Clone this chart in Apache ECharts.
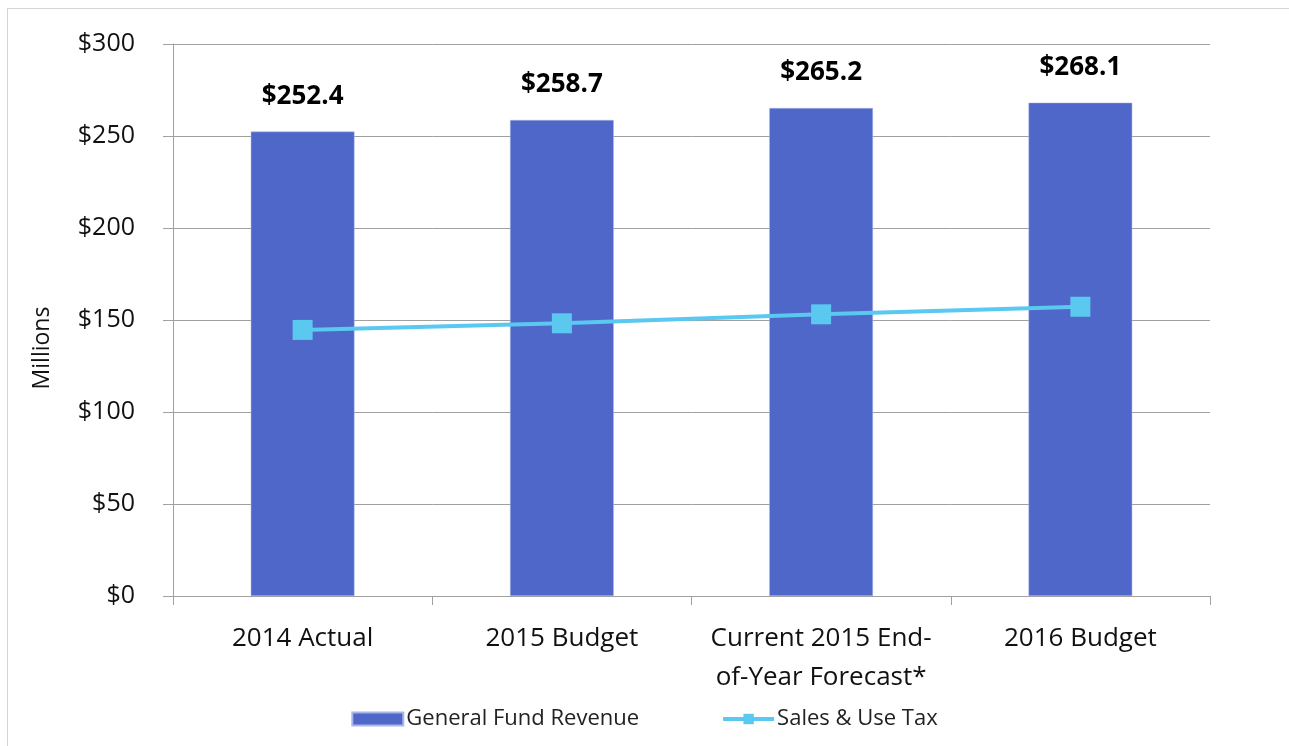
<!DOCTYPE html>
<html>
<head>
<meta charset="utf-8">
<script src="https://cdn.jsdelivr.net/npm/echarts@6/dist/echarts.min.js"></script>
<style>
  html, body { margin: 0; padding: 0; background: #fff; }
  #myChart { width: 1289px; height: 746px; }
</style>
</head>
<body>
<div id="myChart"></div>
<script>
var categories = ['2014 Actual', '2015 Budget', 'Current 2015 End-\nof-Year Forecast*', '2016 Budget'];
var revenueData = [252.4, 258.7, 265.2, 268.1];
var salesTaxData = [144.6, 148.2, 153.1, 157.2];

var fontName = 'Open Sans';

var myChart = echarts.init(document.getElementById('myChart'));

var option = {
    backgroundColor: '#fff',
    animation: false,
    textStyle: { fontFamily: fontName },
    graphic: [{
        type: 'rect',
        shape: { x: 7.5, y: 8.5, width: 1300, height: 760 },
        style: { fill: 'none', stroke: '#d4d4d4', lineWidth: 1 },
        silent: true
    }],
    grid: {
        left: 173,
        right: 79,
        top: 44,
        bottom: 150
    },
    legend: {
        bottom: 11,
        left: 'center',
        itemGap: 82,
        itemWidth: 51,
        itemHeight: 13,
        textStyle: { fontSize: 22, color: '#222', fontFamily: fontName, padding: [0, 0, 0, -2] },
        data: [
            { name: 'General Fund Revenue', icon: 'rect' },
            { name: 'Sales & Use Tax', lineStyle: { width: 4 } }
        ]
    },
    xAxis: {
        type: 'category',
        data: categories,
        axisLine: { show: true, lineStyle: { color: '#a0a0a0', width: 1 } },
        axisTick: { show: true, length: 9, lineStyle: { color: '#a0a0a0' } },
        axisLabel: {
            color: '#111',
            fontSize: 26,
            lineHeight: 39,
            margin: 23,
            interval: 0,
            fontFamily: fontName
        }
    },
    yAxis: {
        type: 'value',
        min: 0,
        max: 300,
        interval: 50,
        name: 'Millions',
        nameLocation: 'middle',
        nameGap: 119,
        nameRotate: 90,
        nameTextStyle: { fontSize: 23, color: '#111', fontFamily: fontName, padding: [0, 56, 0, 0] },
        axisLine: { show: true, lineStyle: { color: '#a0a0a0' } },
        axisTick: { show: true, length: 10, lineStyle: { color: '#a0a0a0' } },
        splitLine: { show: true, lineStyle: { color: '#a0a0a0', width: 1 } },
        axisLabel: {
            color: '#111',
            fontSize: 25,
            margin: 38,
            fontFamily: fontName,
            formatter: function (v) { return '$' + v; }
        }
    },
    series: [{
        name: 'General Fund Revenue',
        type: 'bar',
        barWidth: '40%',
        itemStyle: { color: '#4f67c8', borderColor: '#aab6e8', borderWidth: 0.5 },
        label: {
            show: true,
            position: 'top',
            distance: 22,
            fontSize: 26,
            fontWeight: 'bold',
            color: '#000',
            fontFamily: fontName,
            formatter: function (p) { return '$' + p.value.toFixed(1); }
        },
        data: revenueData
    }, {
        name: 'Sales & Use Tax',
        type: 'line',
        symbol: 'rect',
        symbolSize: 20,
        lineStyle: { color: '#5bc8f0', width: 4 },
        itemStyle: { color: '#5bc8f0' },
        data: salesTaxData
    }]
};
myChart.setOption(option, true);
</script>
</body>
</html>
